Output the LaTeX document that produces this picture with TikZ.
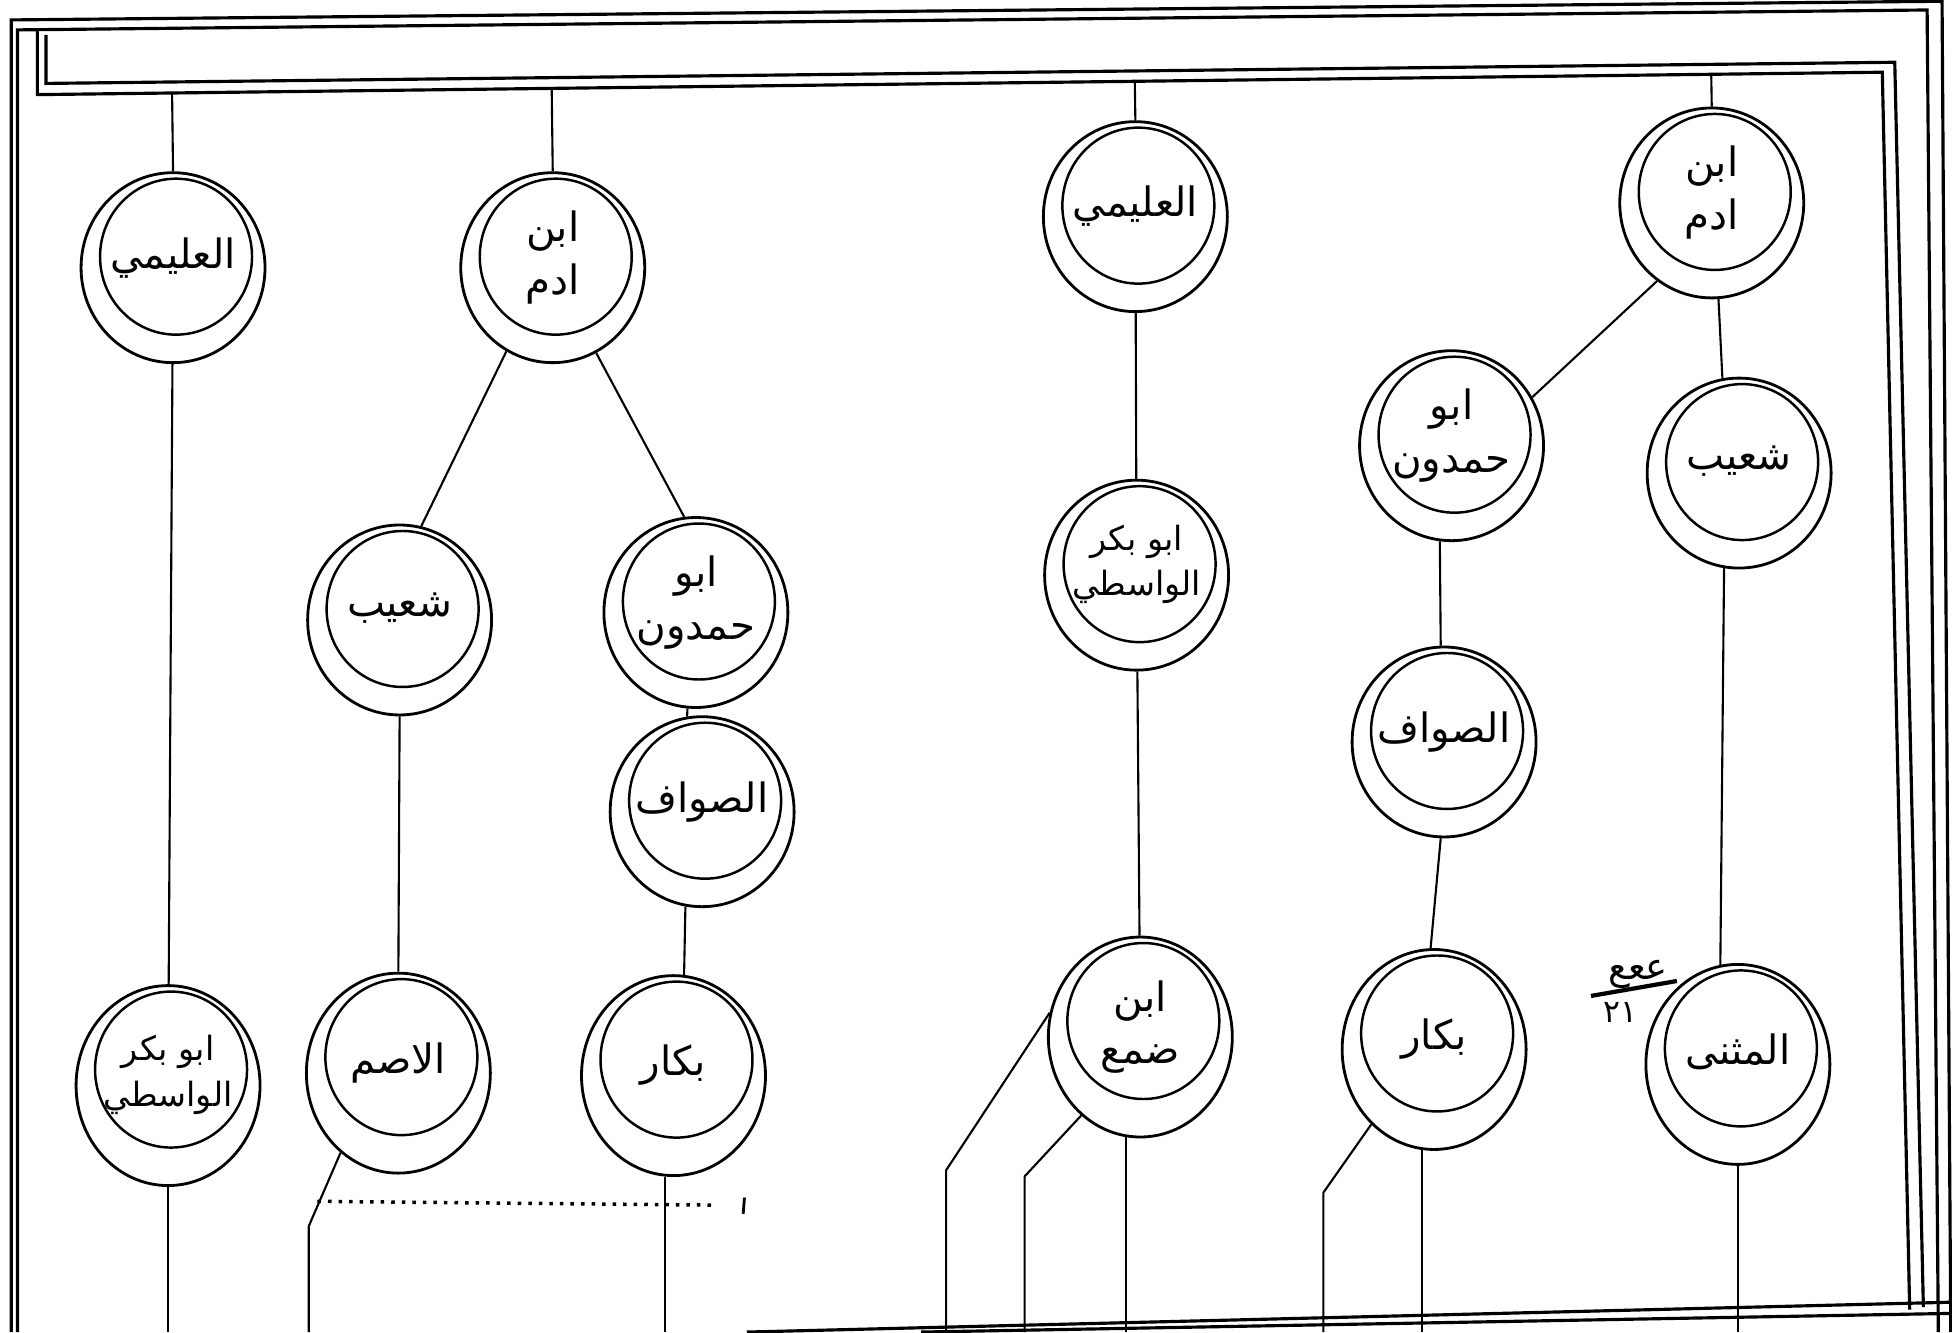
\documentclass[tikz,border=0pt]{standalone}
\usepackage{fontspec}
\newfontfamily\arabicfont[Script=Arabic]{DejaVu Sans}
\TeXXeTstate=1
\usetikzlibrary{shapes.geometric,calc}
\newcommand{\artext}[1]{\makebox[0pt]{\arabicfont\beginR #1\endR}}
\tikzset{
  node-person/.style={ellipse,draw,line width=0.8pt,inner sep=0pt,
    minimum width=1.84cm,minimum height=1.9cm,align=center,text depth=0.3cm,
    font=\fontsize{11.5}{15}\selectfont,
    path picture={\draw[line width=0.7pt]
      ([xshift=0.03cm,yshift=-0.84cm]path picture bounding box.north)
      ellipse [x radius=0.76cm,y radius=0.78cm];}},
  node-person-tall/.style={minimum height=2.0cm},
  node-small/.style={font=\fontsize{9.5}{13}\selectfont},
  link/.style={line width=0.6pt},
  frame-line/.style={line width=0.9pt},
}
\begin{document}
\begin{tikzpicture}[x=0.01245cm,y=-0.01245cm]
  \useasboundingbox (0,0) rectangle (1568,1070);
  % frame
  \draw[frame-line] (9,1070) -- (9,16) -- (1560,1) -- (1567,1070);
  \draw[frame-line] (14,1070) -- (14,24) -- (1548,8) -- (1557,1070);
  \draw[frame-line] (30,24) -- (30,76) -- (1512,58) -- (1534,1052);
  \draw[frame-line] (37,28) -- (37,67) -- (1522,50) -- (1545,1050);
  \draw[frame-line] (600,1070) -- (1568,1046);
  \draw[frame-line] (740,1070) -- (1568,1055);
  \coordinate (barA) at (30,76);
  \coordinate (barB) at (1512,58);
  \coordinate (bot) at (0,1070);

  % left tree
  \node[node-person] (alim-l) at (139,215) {\artext{العليمي}};
  \node[node-person] (adam-l) at (444,215) {\artext{ابن}\\\artext{ادم}};
  \node[node-person] (shuayb-l) at (321,498) {\artext{شعيب}};
  \node[node-person] (hamdun-l) at (559,492) {\artext{ابو}\\\artext{حمدون}};
  \node[node-person] (sawwaf-l) at (564,652) {\artext{الصواف}};
  \node[node-person,node-person-tall,node-small] (wasiti-l) at (135,872) {\artext{ابو بكر}\\\artext{الواسطي}};
  \node[node-person,node-person-tall] (asamm-l) at (320,862) {\artext{الاصم}};
  \node[node-person,node-person-tall] (bakkar-l) at (541,864) {\artext{بكار}};

  % right tree
  \node[node-person] (alim-r) at (912,174) {\artext{العليمي}};
  \node[node-person,node-small] (wasiti-r) at (913,462) {\artext{ابو بكر}\\\artext{الواسطي}};
  \node[node-person,node-person-tall] (dabi-r) at (916,833) {\artext{ابن}\\\artext{ضمع}};
  \node[node-person] (adam-r) at (1375,163) {\artext{ابن}\\\artext{ادم}};
  \node[node-person] (hamdun-r) at (1166,358) {\artext{ابو}\\\artext{حمدون}};
  \node[node-person] (shuayb-r) at (1397,380) {\artext{شعيب}};
  \node[node-person] (sawwaf-r) at (1160,596) {\artext{الصواف}};
  \node[node-person,node-person-tall] (bakkar-r) at (1152,843) {\artext{بكار}};
  \node[node-person,node-person-tall] (muthanna-r) at (1396,855) {\artext{المثنى}};

  % bends
  \coordinate (k-asamm) at (248,985);
  \coordinate (k-dabi1) at (760,940);
  \coordinate (k-dabi2) at (823,945);
  \coordinate (k-bakkar) at (1063,958);

  % links from the bar
  \foreach \n in {alim-l,adam-l,alim-r,adam-r}
    \draw[link] ($(barA)!(\n.north)!(barB)$) -- (\n.north);

  \draw[link] (alim-l) -- (wasiti-l);
  \draw[link] (adam-l.241) -- (shuayb-l.77);
  \draw[link] (adam-l.297) -- (hamdun-l.97);
  \draw[link] (shuayb-l.south) -- (asamm-l.north);
  \draw[link] (hamdun-l.265) -- (sawwaf-l.99);
  \draw[link] (sawwaf-l.260) -- (bakkar-l.84);
  \draw[link] (wasiti-l.south) -- (wasiti-l.south |- bot);
  \draw[link] (asamm-l.234) -- (k-asamm) -- (k-asamm |- bot);
  \draw[link] (bakkar-l.265) -- (bakkar-l.265 |- bot);

  \draw[link] (alim-r) -- (wasiti-r);
  \draw[link] (wasiti-r) -- (dabi-r);
  \draw[link] (dabi-r.165) -- (k-dabi1) -- (k-dabi1 |- bot);
  \draw[link] (dabi-r.233) -- (k-dabi2) -- (k-dabi2 |- bot);
  \draw[link] (dabi-r.262) -- (dabi-r.262 |- bot);
  \draw[link] (adam-r.235) -- (hamdun-r.31);
  \draw[link] (adam-r.274) -- (shuayb-r.100);
  \draw[link] (hamdun-r.263) -- (sawwaf-r.92);
  \draw[link] (sawwaf-r.268) -- (bakkar-r.92);
  \draw[link] (bakkar-r.230) -- (k-bakkar) -- (k-bakkar |- bot);
  \draw[link] (bakkar-r.263) -- (bakkar-r.263 |- bot);
  \draw[link] (shuayb-r.261) -- (muthanna-r.100);
  \draw[link] (muthanna-r.south) -- (muthanna-r.south |- bot);

  % marks
  \draw[dotted,line width=1pt] (255,965) -- (572,968);
  \draw[line width=0.8pt] (598,962) -- (597,975);
  \node[font=\fontsize{10.5}{12}\selectfont] (note-top) at (1316,783) {\artext{ععع}};
  \draw[line width=1.2pt] (1278,800) -- (1347,788);
  \node[font=\fontsize{9}{11}\selectfont] (note-num) at (1302,813) {\arabicfont ٢١};
\end{tikzpicture}
\end{document}
